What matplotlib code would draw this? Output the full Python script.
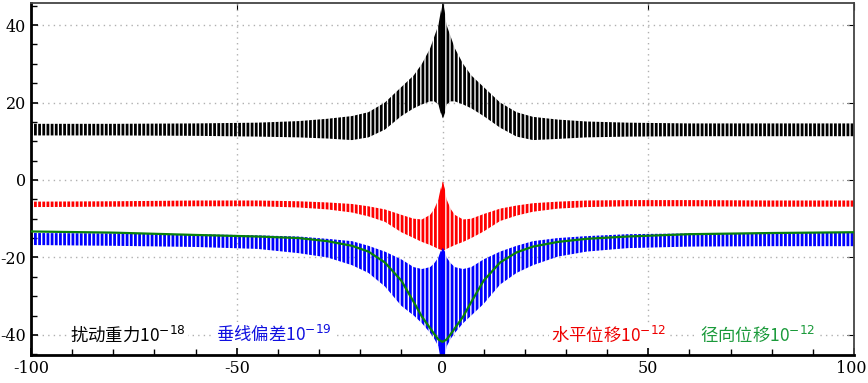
import matplotlib
matplotlib.use("Agg")
import matplotlib.pyplot as plt
import matplotlib.transforms as mtransforms
import numpy as np

plt.rcParams['axes.unicode_minus'] = False
plt.rcParams['hatch.linewidth'] = 2.0

# ---------------- data ----------------
x_env = [-100, -80, -60, -45, -35, -28, -22, -18, -14, -10, -7, -5, -3, -2, -1, -0.5, 0,
         0.5, 1, 2, 3, 5, 7, 10, 14, 18, 22, 28, 35, 45, 60, 80, 100]

# 扰动重力 (black): upper / lower envelope of the oscillation
grav_hi = [14.5, 14.5, 14.6, 14.8, 15.2, 15.8, 16.5, 17.5, 20.0, 24.0, 27.0, 30.0, 34.0, 37.0, 40.0, 43.0, 46.5,
           43.0, 40.0, 37.0, 34.0, 30.0, 27.0, 24.0, 20.0, 17.5, 16.3, 15.6, 15.1, 14.8, 14.6, 14.6, 14.6]
grav_lo = [11.5, 11.5, 11.4, 11.2, 11.0, 10.7, 10.3, 11.0, 13.0, 16.5, 18.5, 19.5, 20.3, 20.3, 19.5, 17.5, 16.0,
           17.5, 19.5, 20.3, 20.3, 19.5, 18.5, 16.5, 13.5, 11.2, 10.3, 10.6, 11.0, 11.2, 11.3, 11.3, 11.3]

# 水平位移 (red)
hor_hi = [-5.6, -5.5, -5.3, -5.3, -5.5, -5.8, -6.2, -6.8, -7.6, -9.0, -10.0, -10.2, -9.0, -7.5, -5.0, -2.5, -0.3,
          -2.5, -5.0, -7.5, -9.0, -10.2, -10.0, -8.8, -7.4, -6.6, -6.0, -5.6, -5.3, -5.2, -5.2, -5.3, -5.3]
hor_lo = [-7.0, -6.9, -6.8, -6.8, -7.1, -7.6, -8.4, -9.4, -10.8, -13.5, -15.0, -16.0, -16.8, -17.3, -17.8, -18.0, -18.0,
          -18.0, -17.8, -17.3, -16.8, -16.0, -15.0, -13.3, -10.6, -9.2, -8.2, -7.4, -7.0, -6.8, -6.8, -6.9, -6.9]

# 垂线偏差 (blue)
vd_hi = [-13.7, -13.8, -14.0, -14.3, -14.6, -15.2, -15.8, -17.0, -18.5, -20.5, -22.5, -23.0, -22.5, -21.5, -20.0, -18.5, -17.5,
         -18.5, -20.0, -21.5, -22.5, -23.0, -22.5, -20.5, -18.5, -17.0, -15.8, -15.0, -14.5, -14.0, -13.8, -13.7, -13.7]
vd_lo = [-16.8, -17.0, -17.3, -17.8, -18.9, -20.0, -22.0, -24.0, -27.5, -32.5, -35.0, -37.0, -39.5, -41.0, -43.0, -46.0, -47.0,
         -46.0, -43.0, -41.0, -39.5, -37.0, -35.0, -32.0, -27.0, -24.0, -22.0, -19.8, -18.5, -17.6, -17.2, -17.1, -17.1]

# 径向位移 (green, smooth)
x_rad = [-100, -80, -60, -45, -35, -28, -22, -18, -14, -10, -7, -5, -3, -2, -1, 0,
         1, 2, 3, 5, 7, 10, 14, 18, 22, 28, 35, 45, 60, 80, 100]
rad = [-13.3, -13.6, -14.2, -14.6, -15.0, -15.8, -17.0, -18.5, -21.3, -26.0, -31.5, -35.3, -38.3, -39.8, -41.2, -41.8,
       -41.2, -39.8, -38.3, -35.3, -31.5, -26.0, -21.3, -18.7, -17.2, -16.0, -15.2, -14.6, -14.0, -13.7, -13.5]

labels = ['扰动重力10$^{-18}$', '垂线偏差10$^{-19}$', '水平位移10$^{-12}$', '径向位移10$^{-12}$']
label_x = [-76.5, -41, 40.5, 76.5]
label_y = -40
colors = ['#000000', '#1010e0', '#ee0000', '#1a9a3a']

xticks = [-100, -50, 0, 50, 100]
yticks = [-40, -20, 0, 20, 40]

# ---------------- figure ----------------
fig = plt.figure(figsize=(8.68, 3.83), dpi=100)
ax = fig.add_axes([31 / 868, 1 - 355 / 383, (854 - 31) / 868, (355 - 3) / 383])

xe = np.array(x_env)
center = np.abs(xe) <= 0.5
for hi, lo, c in [(grav_hi, grav_lo, '#000000'), (hor_hi, hor_lo, '#ff0000'), (vd_hi, vd_lo, '#0000ff')]:
    ax.fill_between(xe, lo, hi, facecolor='none', edgecolor=c, hatch='||||', linewidth=0)
    ax.fill_between(xe, lo, hi, where=center, color=c, linewidth=0, interpolate=False)

ax.plot(x_rad, rad, color='#0a820a', lw=1.6, zorder=5)

ax.set_xlim(-100, 100)
ax.set_ylim(-45.2, 45.7)
ax.set_xticks(xticks)
ax.set_yticks(yticks)
ax.set_xticks(np.arange(-100, 101, 10), minor=True)
ax.set_yticks(np.arange(-45, 46, 5), minor=True)
ax.grid(True, which='major', color='#b0b0b0', linestyle=(0, (1, 3)), linewidth=1.0)
ax.set_axisbelow(True)

for lab, lx, c in zip(labels, label_x, colors):
    ax.text(lx, label_y, lab, color=c, fontsize=12.5, ha='center', va='center',
            family=['Noto Sans CJK SC', 'DejaVu Sans'], zorder=6,
            bbox=dict(facecolor='white', edgecolor='none', pad=1.5))

ax.tick_params(which='both', direction='in', top=False, right=False, labelsize=11.5)
ax.tick_params(which='major', length=5, width=1.2)
ax.tick_params(which='minor', length=4, width=1.0)
for lab in ax.get_xticklabels() + ax.get_yticklabels():
    lab.set_family('DejaVu Serif')
# keep the last x label inside the picture
last = ax.xaxis.get_major_ticks()[-1].label1
last.set_transform(last.get_transform() + mtransforms.ScaledTranslation(-3 / 100, 0, fig.dpi_scale_trans))

ax.spines['left'].set_linewidth(2.0)
ax.spines['bottom'].set_linewidth(2.0)
ax.spines['top'].set_linewidth(1.3)
ax.spines['right'].set_linewidth(1.3)
ax.spines['top'].set_color('#444444')
ax.spines['right'].set_color('#444444')

# major ticks on top/right (inward), no labels
ax2 = ax.secondary_xaxis('top')
ax2.set_xticks(xticks)
ax2.tick_params(direction='in', length=5, labeltop=False)
ax3 = ax.secondary_yaxis('right')
ax3.set_yticks(yticks)
ax3.tick_params(direction='in', length=5, labelright=False)
for a in (ax2, ax3):
    for s in a.spines.values():
        s.set_visible(False)

fig.savefig('out.png', dpi=100)
